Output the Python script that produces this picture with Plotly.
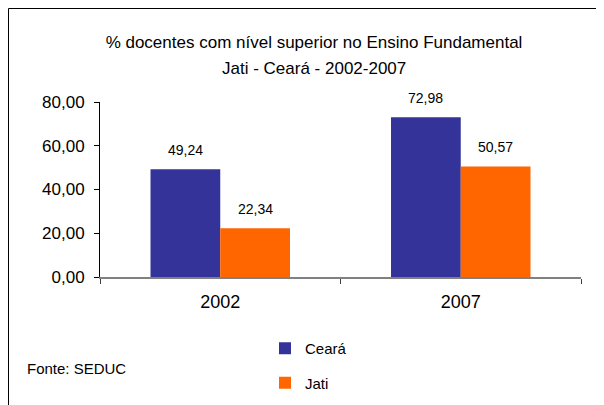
import plotly.graph_objects as go

years = ["2002", "2007"]
ceara = [49.24, 72.98]
jati = [22.34, 50.57]
series_names = ["Ceará", "Jati"]
colors = ["#333399", "#FF6600"]
y_ticks = [0, 20, 40, 60, 80]

FONT = "Liberation Sans, Arial, sans-serif"

fig = go.Figure()
for i, (name, vals) in enumerate(zip(series_names, [ceara, jati])):
    fig.add_trace(go.Bar(
        x=years, y=vals, name=name, marker=dict(color=colors[i], line=dict(width=0)),
        legendgroup=name,
    ))

annotations = []
for i, vals in enumerate([ceara, jati]):
    for j, v in enumerate(vals):
        annotations.append(dict(
            x=j, y=v, xref="x", yref="y", text=f"{v:.2f}".replace(".", ","),
            showarrow=False, xshift=(-35 if i == 0 else 35), yshift=9, yanchor="bottom",
            font=dict(family=FONT, size=14, color="#000000"),
        ))

# second title line
annotations.append(dict(
    x=(314-100)/481, y=(277-69)/175, xref="paper", yref="paper", xanchor="center", yanchor="middle",
    text="Jati - Ceará - 2002-2007", showarrow=False,
    font=dict(family=FONT, size=17, color="#000000"),
))
annotations.append(dict(
    x=(25-100)/481, y=(277-368)/175, xref="paper", yref="paper", xanchor="left", yanchor="middle",
    text="Fonte: SEDUC", showarrow=False,
    font=dict(family=FONT, size=15, color="#000000"),
))

fig.update_layout(
    width=604, height=405,
    margin=dict(l=92, r=31, t=94, b=136, autoexpand=False),
    paper_bgcolor="white", plot_bgcolor="white",
    separators=",.",
    bargap=0.42, bargroupgap=0,
    title=dict(text="% docentes com nível superior no Ensino Fundamental",
               x=306/604, xanchor="center", xref="container",
               y=1 - 34/405, yanchor="middle", yref="container",
               font=dict(family=FONT, size=17, color="#000000")),
    font=dict(family=FONT, color="#000000"),
    legend=dict(x=257/604, y=1 - 324/405, xref="container", yref="container",
                xanchor="left", yanchor="top",
                orientation="v", tracegroupgap=12, itemwidth=30,
                font=dict(family=FONT, size=15, color="#000000"),
                bgcolor="rgba(0,0,0,0)"),
    annotations=annotations,
    shapes=[dict(type="rect", xref="paper", yref="paper",
                 x0=(0.5-92)/481, x1=1.3, y0=-1.2, y1=1 + (94-0.5)/175,
                 line=dict(color="#000000", width=1), fillcolor="rgba(0,0,0,0)", layer="below")],
)

fig.update_yaxes(range=[0, 80], tickvals=y_ticks, tickformat=".2f", automargin=False,
                 showgrid=False, zeroline=False, showline=True, linecolor="#000000", linewidth=1,
                 ticks="outside", ticklen=5, tickcolor="#000000",
                 tickfont=dict(family=FONT, size=17, color="#000000"), ticklabelstandoff=6)
fig.update_xaxes(type="category", range=[-0.5, len(years) - 0.5], automargin=False,
                 showgrid=False, showline=True, linecolor="#808080", linewidth=1.5,
                 ticks="outside", ticklen=5, tickcolor="#404040", tickson="boundaries",
                 tickangle=0,
                 tickfont=dict(family=FONT, size=18, color="#000000"), ticklabelstandoff=8)

fig.write_html("out.html")
